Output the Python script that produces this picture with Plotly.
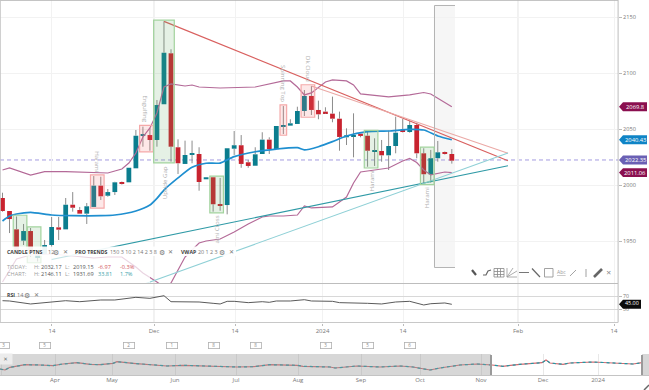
import plotly.graph_objects as go

W, H = 649, 390

# ---- daily candles (session index 0..64) ----
opens = [1988.4,1976.8,1960.4,1950.3,1958.9,1934.8,1938.4,1946.4,1962.2,1960.4,1982.4,1977.7,1974.4,1980.4,1999.4,1990.4,1993.7,2002.7,2002.4,2014.9,2044.0,2044.6,2040.2,2072.1,2117.6,2033.7,2018.8,2027.1,2027.7,2005.1,2006.9,1982.8,1982.1,2032.4,2035.5,2020.3,2017.2,2027.7,2040.5,2031.9,2052.4,2053.0,2054.5,2066.1,2079.5,2067.0,2065.5,2063.7,2059.2,2042.6,2043.1,2045.8,2044.0,2029.5,2030.4,2026.5,2034.8,2049.1,2047.3,2053.6,2028.3,2009.6,2023.9,2029.2,2027.7]
highs = [1993.1,1976.8,1971.9,1965.2,1961.6,1940.2,1950.9,1971.4,1971.4,1988.4,1993.7,1980.4,1983.9,2008.0,2007.4,1996.4,2002.9,2003.1,2015.4,2049.1,2052.1,2050.9,2075.9,2146.1,2121.2,2040.8,2039.6,2039.6,2033.7,2006.9,2006.9,2006.3,2032.8,2048.2,2044.6,2022.3,2033.7,2047.1,2042.6,2052.7,2070.5,2058.7,2069.9,2084.8,2088.4,2075.3,2069.4,2078.9,2065.5,2050.6,2064.0,2045.8,2047.6,2041.7,2040.2,2048.5,2061.0,2058.9,2057.4,2055.6,2032.8,2031.3,2039.3,2029.9,2032.1]
lows = [1976.2,1957.1,1940.2,1946.4,1935.7,1931.7,1938.4,1938.4,1950.9,1960.4,1976.2,1974.4,1965.2,1980.4,1986.6,1989.6,1991.1,2000.4,2002.4,2014.9,2034.2,2030.6,2034.2,2072.1,2020.8,2009.8,2018.8,2019.4,1994.9,2005.1,1976.2,1977.0,1973.8,2026.8,2015.4,2015.4,2017.0,2027.7,2027.7,2031.9,2045.5,2053.0,2054.5,2061.6,2062.5,2058.7,2063.4,2056.0,2030.6,2035.7,2024.7,2042.6,2016.3,2017.0,2020.8,2013.4,2028.3,2046.9,2046.7,2023.9,2001.5,2002.1,2020.8,2027.2,2019.1]
closes = [1976.8,1969.6,1942.0,1958.9,1939.3,1937.5,1946.4,1962.5,1960.1,1982.4,1979.7,1974.4,1981.0,1999.4,1989.9,1993.7,2002.4,2001.2,2015.4,2044.0,2044.9,2040.2,2071.4,2118.1,2034.2,2019.4,2026.8,2028.3,2002.7,2006.9,1982.8,1981.5,2032.8,2035.5,2018.8,2017.0,2027.4,2040.5,2032.1,2052.7,2053.6,2055.1,2066.1,2079.5,2067.0,2063.1,2064.0,2059.2,2042.9,2044.4,2044.6,2043.8,2030.6,2030.6,2026.5,2034.8,2046.7,2047.3,2053.6,2028.3,2009.6,2023.9,2029.2,2027.7,2021.7]
sessions = list(range(len(opens)))

# ---- Bollinger-style bands ----
mid_x = [0,1,2,4,7,10,14,16,19,21,22,23,25,27,29,31,33,36,39,42,43,45,47,49,52,55,58,60,62,64]
mid_val = [1967.9,1972.3,1974.1,1975.6,1973.2,1972.6,1972.6,1973.2,1976.8,1982.1,1988.1,1995.5,2006.3,2015.8,2019.4,2019.6,2025.3,2029.7,2032.1,2033.3,2031.3,2034.2,2038.7,2043.8,2047.6,2048.2,2049.7,2049.1,2043.8,2040.43]
up_x = [0,1,4,6,9,13,15,17,18,19,20,21,22,23,24,26,27,28,31,36,40,41,42,43,44,46,47,49,50,51,55,58,60,61,63,64]
up_val = [2013.4,2015.2,2008.9,2011.9,2011.9,2010.7,2010.7,2014.3,2019.6,2028.6,2042.9,2050.9,2064.3,2087.5,2090.2,2088.4,2089.3,2087.5,2086.6,2087.5,2092.9,2092.9,2087.5,2080.4,2082.2,2092.0,2093.8,2092.9,2089.3,2081.3,2078.6,2080.4,2082.6,2081.3,2074.1,2069.8]
lo_x = [0,1,2,4,7,10,13,15,17,19,20,22,23,24,25,26,27,28,29,31,33,35,37,38,40,42,43,44,47,48,49,50,51,53,55,57,58,59,60,61,63,64]
lo_val = [1913.4,1924.1,1933.9,1937.5,1938.4,1936.6,1934.8,1935.7,1935.7,1926.8,1921.4,1913.4,1908.9,1912.5,1924.1,1935.7,1942.0,1948.2,1950.0,1951.8,1958.0,1965.2,1971.4,1972.3,1972.3,1973.2,1981.3,1979.5,1980.4,1984.8,1989.3,2001.8,2011.6,2013.4,2015.2,2021.4,2023.7,2020.1,2013.4,2009.0,2011.6,2011.06]

# ---- trend lines: [start session, end session], [start price, end price] ----
trend_red_x = [23, 72];      trend_red_y = [2146.1, 2021.7]
trend_pink_x = [44, 72];     trend_pink_y = [2088.4, 2028.3]
trend_teal_x = [7, 72];      trend_teal_y = [1933.5, 2017.2]
trend_aqua_x = [19.6, 72];   trend_aqua_y = [1910.2, 2028.6]

# ---- candlestick patterns: first session, last session, kind, label, side ----
patterns = [
    (2, 3, "bull", "", ""), (4, 5, "bull", "", ""),
    (13, 14, "bear", "Harami", "top"),
    (20, 21, "bear", "Engulfing", "top"),
    (22, 24, "bull", "Upside Gap", "bottom"),
    (30, 31, "bull", "ami Cross", "bottom"),
    (40, 40, "bear", "Spinning Top", "top"),
    (43, 44, "bear", "Dk Cloud", "top"),
    (52, 53, "bull", "Harami", "bottom"),
    (60, 61, "bull", "Harami", "bottom"),
]

# ---- RSI ----
rsi_x = [0,1,4,7,9,11,14,16,19,21,23,24,26,28,30,31,32,33,35,37,38,39,41,43,44,47,48,50,52,54,56,58,60,61,63,64]
rsi_val = [55.9,55,46,51,55.9,52.9,58,58,66,63,70.9,52.9,52,52,48,46,54,54,50,52.9,51,55,55,58.9,55,54,50,50,48,46,52,54,43,46.8,49,45]

# ---- axis labels ----
main_tick_pos = [7.05, 21.58, 33.12, 45.58, 57.05, 73.43, 87.1]
main_tick_txt = ["14", "Dec", "14", "2024", "14", "Feb", "14"]
major_pos = [21.58, 45.58, 73.43]

price_ticks = [1950, 2000, 2050, 2100, 2150]
rsi_ticks = [30, 70]

# ---- navigator ----
nav_x = [0,2.5,5,10,12.5,20,26.5,31.5,38.5,45,50,56.5,58.5,66.5,73.5,83.5,91.5,100,110,118.5,126.5,135,148.5,151.5,165,167.5,178.5,190,200,206.5,215,220,230,238.5,246,251.5,260,271,273,275,281.5,285,296.5,308.5,316.5,321]
nav_val = [1847.5,1820,1894.6,1930.6,1966.6,1958.3,1939,1986,2022,1977.7,1966.6,2005.4,2049.7,2005.4,1977.7,1930.6,1950,1930.6,1911.2,1902.9,1911.2,1966.6,1950,1922.3,1902.9,1875.2,1930.6,1902.9,1930.6,1902.9,1819.8,1875.2,1958.3,1986,1958.3,1922.3,1977.7,2022,2096.8,2013.7,1977.7,2013.7,2041.4,2005.4,1986,2022]
nav_tick_pos = [0.75, 27.5, 56, 87.5, 118, 149, 180.5, 210, 240.5, 271.5, 299]
nav_tick_txt = ["Mar", "Apr", "May", "Jun", "Jul", "Aug", "Sep", "Oct", "Nov", "Dec", "2024"]

# ---- event markers above the navigator ----
event_px = [4, 45, 129, 172, 214, 256, 326, 368, 410]
event_txt = ["3", "5", "2", "1", "8", "8", "3", "5", "6"]

# ---- last-value tags ----
tags = [(2069.8, "2069.8", "#8a0f4f"), (2040.43, "2040.43", "#0f84c6"),
        (2022.35, "2022.35", "#6a60b4"), (2011.06, "2011.06", "#8a0f4f")]
rsi_tag = 45.00

TEAL, RED = "#0b7d8e", "#c8232f"
FONT = "Open Sans, DejaVu Sans, sans-serif"


def fx(px):
    return px / W


def fy(py):
    return 1 - py / H


fig = go.Figure()

# bodies
fig.add_trace(go.Bar(
    x=sessions,
    base=[min(o, c) for o, c in zip(opens, closes)],
    y=[max(abs(c - o), 1.0) for o, c in zip(opens, closes)],
    width=0.68,
    marker=dict(color=[TEAL if c >= o else RED for o, c in zip(opens, closes)], line=dict(width=0)),
))

# wicks: above and below each body, so they never cross it
wx, wy = [], []
for s, o, hi, lo, c in zip(sessions, opens, highs, lows, closes):
    wx += [s, s, None, s, s, None]
    wy += [max(o, c), hi, None, lo, min(o, c), None]
fig.add_trace(go.Scatter(x=wx, y=wy, mode="lines", line=dict(color="#8c8c8c", width=1), hoverinfo="skip"))

PURPLE = "#b46a98"
fig.add_trace(go.Scatter(x=up_x, y=up_val, mode="lines", line=dict(color=PURPLE, width=1.2)))
fig.add_trace(go.Scatter(x=lo_x, y=lo_val, mode="lines", line=dict(color=PURPLE, width=1.2)))
fig.add_trace(go.Scatter(x=mid_x, y=mid_val, mode="lines", line=dict(color="#1f8fd0", width=1.7, shape="spline", smoothing=0.6)))

fig.add_trace(go.Scatter(x=trend_red_x, y=trend_red_y, mode="lines", line=dict(color="#d9605f", width=1.2)))
fig.add_trace(go.Scatter(x=trend_pink_x, y=trend_pink_y, mode="lines", line=dict(color="#eba9a6", width=1.1)))
fig.add_trace(go.Scatter(x=trend_teal_x, y=trend_teal_y, mode="lines", line=dict(color="#2f9aa6", width=1.2)))
fig.add_trace(go.Scatter(x=trend_aqua_x, y=trend_aqua_y, mode="lines", line=dict(color="#8fd0d6", width=1.1)))

# RSI pane
fig.add_trace(go.Scatter(x=rsi_x, y=rsi_val, mode="lines", line=dict(color="#5a5a5a", width=1), xaxis="x2", yaxis="y2"))

# navigator pane
fig.add_trace(go.Scatter(x=nav_x, y=nav_val, mode="lines", line=dict(color="#d4686f", width=1.2), xaxis="x3", yaxis="y3"))
fig.add_trace(go.Scatter(x=nav_x, y=nav_val, mode="lines", line=dict(color="#1f9aa6", width=1.2, dash="3px,3px"), xaxis="x3", yaxis="y3"))

shapes, notes = [], []


def pshape(x0, y0, x1, y1, fill=None, line=None, lw=1, layer="above", kind="rect", opacity=None):
    d = dict(type=kind, xref="paper", yref="paper", x0=fx(x0), x1=fx(x1), y0=fy(y0), y1=fy(y1),
             layer=layer, line=dict(color=line or "rgba(0,0,0,0)", width=lw if line else 0))
    if fill:
        d["fillcolor"] = fill
    if opacity is not None:
        d["opacity"] = opacity
    shapes.append(d)


def ppath(points, line, lw=1):
    p = "M " + " L ".join(f"{fx(a):.5f} {fy(b):.5f}" for a, b in points)
    shapes.append(dict(type="path", xref="paper", yref="paper", path=p, layer="above",
                       line=dict(color=line, width=lw)))


def note(px, py, text, size=5.6, color="#666", anchor="left", **kw):
    notes.append(dict(xref="paper", yref="paper", x=fx(px), y=fy(py), text=text, showarrow=False,
                      xanchor=anchor, yanchor="middle", font=dict(size=size, color=color, family=FONT),
                      borderpad=0, **kw))


# month lines
for p in major_pos:
    shapes.append(dict(type="line", xref="x", yref="y domain", x0=p, x1=p, y0=0, y1=1, layer="below",
                       line=dict(color="#e2e2e2", width=1)))
    shapes.append(dict(type="line", xref="x2", yref="y2 domain", x0=p, x1=p, y0=0, y1=1, layer="below",
                       line=dict(color="#e2e2e2", width=1)))

# grey time zone
pshape(434.5, 5, 455, 267.5, fill="#f6f6f6", layer="below")
ppath([(455, 5.5), (434.5, 5.5), (434.5, 267.5), (455, 267.5)], "#b4b4b4", 1)

# last close line
shapes.append(dict(type="line", xref="paper", yref="y", x0=0, x1=618 / W, y0=2022.35, y1=2022.35,
                   layer="below", line=dict(color="#a39be0", width=1, dash="4px,3px")))

# pattern boxes & labels
for first, last, kind, label, side in patterns:
    top = max(highs[first:last + 1]) + 1.1
    bot = min(lows[first:last + 1]) - 1.1
    if kind == "bull":
        fc, lc = "rgba(95,170,95,0.16)", "#a3d39e"
    else:
        fc, lc = "rgba(240,110,110,0.16)", "#f5a9a9"
    shapes.append(dict(type="rect", xref="x", yref="y", x0=first - 0.47, x1=last + 0.47, y0=bot, y1=top,
                       fillcolor=fc, line=dict(color=lc, width=1.2), layer="above"))
    if label:
        notes.append(dict(xref="x", yref="y", x=(first + last) / 2,
                          y=top + 0.8 if side == "top" else bot - 0.8,
                          text=label, showarrow=False, textangle=90 if side == "top" else -90,
                          yanchor="bottom" if side == "top" else "top", xanchor="center",
                          font=dict(size=6.1, color="#b0b0b0", family=FONT)))

# legend backgrounds
pshape(0, 246.5, 236, 256, fill="rgba(255,255,255,0.92)")
pshape(0, 256, 150, 283, fill="rgba(255,255,255,0.72)")

# pane borders
pshape(0, 0, 618, 0.8, fill="#b0b0b0")
pshape(0, 0, 0.8, 322.5, fill="#c4c4c4")
pshape(617.6, 0, 618.6, 322.5, fill="#bdbdbd")
pshape(0, 283, 618, 284, fill="#bdbdbd")
pshape(0, 322, 618, 323, fill="#c8c8c8")

# navigator decoration
pshape(0, 354, 491, 375, fill="rgba(150,150,150,0.38)")
pshape(642, 354, 649, 375, fill="rgba(150,150,150,0.38)")
pshape(0, 375, 649, 376, fill="#c4c4c4")
pshape(490, 355, 492, 375, fill="#9a9a9a")
pshape(641, 355, 643, 375, fill="#9a9a9a")
notes.append(dict(xref="paper", yref="paper", x=fx(5.5), y=fy(359), text="✕", showarrow=False,
                  xanchor="center", yanchor="middle",
                  width=11, height=8, bgcolor="#ececec", font=dict(size=5.5, color="#777", family=FONT)))

# event markers
for px, t in zip(event_px, event_txt):
    notes.append(dict(xref="paper", yref="paper", x=fx(px), y=fy(345.5), text=t, showarrow=False,
                      xanchor="center", yanchor="middle",
                      width=10, height=5, bordercolor="#b0b0b0", borderwidth=0.8, borderpad=0,
                      font=dict(size=4.5, color="#888", family=FONT)))

# legend texts
DARK, SOFT = "#3f3f3f", "#777"
note(6, 252.3, "<b>CANDLE PTNS</b>", size=5.2, color=DARK)
note(47, 252.3, "12", color=SOFT)
note(56, 252.3, "⚙", size=7, color=SOFT, anchor="center")
note(65, 252.3, "✕", size=6, color=SOFT, anchor="center")
note(74, 252.3, "<b>PRO TRENDS</b>", size=5.2, color=DARK)
note(109, 252.3, "150 3 10 2 14 2 3 8", size=5.4, color=SOFT)
note(162, 252.3, "⚙", size=7, color=SOFT, anchor="center")
note(170.5, 252.3, "✕", size=6, color=SOFT, anchor="center")
note(180, 252.3, "<b>VWAP</b>", size=5.2, color=DARK)
note(197, 252.3, "20 1 2 3", size=5.4, color=SOFT)
note(222, 252.3, "⚙", size=7, color=SOFT, anchor="center")
note(231, 252.3, "✕", size=6, color=SOFT, anchor="center")
for py, vals, col in [(267.3, ("TODAY:", "2032.17", "2019.15", "-6.97", "-0.3%"), "#d2555a"),
                      (274.3, ("CHART:", "2146.11", "1931.69", "33.81", "1.7%"), "#3d9faa")]:
    note(6, py, vals[0], color="#a0a0a0")
    note(33, py, "H:", color="#a0a0a0")
    note(40, py, vals[1], color="#555")
    note(64, py, "L:", color="#a0a0a0")
    note(72, py, vals[2], color="#555")
    note(97, py, vals[3], color=col)
    note(119, py, vals[4], color=col)
note(6, 295, "<b>RSI</b>", size=5.2, color=DARK)
note(16, 295, "14", color=SOFT)
note(27, 295, "⚙", size=7, color=SOFT, anchor="center")
note(36, 295, "✕", size=6, color=SOFT, anchor="center")

# last-value tags
for val, txt, col in tags:
    h = 4.0
    path = (f"M {619 / W:.5f} {val} L {623 / W:.5f} {val + h} L {647 / W:.5f} {val + h} "
            f"L {647 / W:.5f} {val - h} L {623 / W:.5f} {val - h} Z")
    shapes.append(dict(type="path", xref="paper", yref="y", path=path, fillcolor=col,
                       line=dict(width=0), layer="above"))
    notes.append(dict(xref="paper", yref="y", x=635 / W, y=val, text=txt, showarrow=False,
                      xanchor="center", yanchor="middle",
                      font=dict(size=5.8, color="white", family=FONT)))
h = 13.5
path = (f"M {619 / W:.5f} {rsi_tag} L {623 / W:.5f} {rsi_tag + h} L {641 / W:.5f} {rsi_tag + h} "
        f"L {641 / W:.5f} {rsi_tag - h} L {623 / W:.5f} {rsi_tag - h} Z")
shapes.append(dict(type="path", xref="paper", yref="y2", path=path, fillcolor="#0c0c0c",
                   line=dict(width=0), layer="above"))
notes.append(dict(xref="paper", yref="y2", x=632 / W, y=rsi_tag + 2.5, text=f"{rsi_tag:.2f}", showarrow=False,
                  xanchor="center", yanchor="middle",
                  font=dict(size=5.4, color="white", family=FONT)))

# drawing toolbar
ppath([(472, 270), (476, 275)], "#555", 2.2)
ppath([(483, 275), (486, 275), (488, 271), (491, 270)], "#666", 1.2)
pshape(494, 268.5, 504, 277, line="#888", lw=0.8)
ppath([(494, 271.5), (504, 271.5)], "#888", 0.8)
ppath([(494, 274.5), (504, 274.5)], "#888", 0.8)
ppath([(497.5, 268.5), (497.5, 277)], "#888", 0.8)
ppath([(500.5, 268.5), (500.5, 277)], "#888", 0.8)
ppath([(507, 268), (507, 277), (517, 277)], "#999", 0.8)
ppath([(507, 277), (513, 268)], "#999", 0.8)
ppath([(507, 277), (517, 271)], "#999", 0.8)
ppath([(519, 272.5), (529, 272.5)], "#777", 1)
ppath([(532, 268.5), (540, 277)], "#666", 1.2)
pshape(544.5, 268.5, 553, 277, line="#999", lw=0.9)
note(561, 272, "<u>Abc</u>", size=5, color="#999", anchor="center")
ppath([(570, 276), (576, 270)], "#999", 0.9)
ppath([(586, 269), (586, 277)], "#aaa", 1.1)
ppath([(594, 277), (602, 269)], "#666", 2.6)
note(608.5, 272.5, "✕", size=6.5, color="#888", anchor="center")
ppath([(644, 390), (649, 385)], "#666", 1.5)

axis_common = dict(showline=False, zeroline=False)
fig.update_layout(
    width=W, height=H, autosize=False, showlegend=False, barmode="overlay",
    margin=dict(l=0, r=0, t=0, b=0, pad=0),
    paper_bgcolor="white", plot_bgcolor="white",
    font=dict(family=FONT, size=6, color="#777"),
    shapes=shapes, annotations=notes,
    xaxis=dict(domain=[0, 618 / W], range=[-0.356, 87.67], anchor="y", tickvals=main_tick_pos,
               showticklabels=False, ticks="", showgrid=True, gridcolor="#f2f2f2", gridwidth=1, **axis_common),
    yaxis=dict(domain=[fy(283), 1], range=[1912.5, 2165.18], anchor="x", side="right", tickvals=price_ticks,
               ticks="outside", ticklen=3, tickcolor="#bbb", tickwidth=1, tickfont=dict(size=5.6, color="#777"),
               showgrid=True, gridcolor="#f2f2f2", gridwidth=1, **axis_common),
    xaxis2=dict(domain=[0, 618 / W], range=[-0.356, 87.67], anchor="y2", tickvals=main_tick_pos,
                ticktext=main_tick_txt, ticks="outside", ticklen=2, tickcolor="#bbb",
                tickfont=dict(size=6, color="#777"), showgrid=True, gridcolor="#f2f2f2", **axis_common),
    yaxis2=dict(domain=[fy(322.5), fy(283.5)], range=[-9.7, 107.6], anchor="x2", side="right", tickvals=rsi_ticks,
                ticks="outside", ticklen=3, tickcolor="#bbb", tickfont=dict(size=5.2, color="#777"),
                showgrid=True, gridcolor="#d8d8d8", gridwidth=1, **axis_common),
    xaxis3=dict(domain=[0, 1], range=[0, 324.5], anchor="y3", tickvals=nav_tick_pos, ticktext=nav_tick_txt,
                ticks="", tickfont=dict(size=6, color="#777"), showgrid=True, gridcolor="#e8e8e8", **axis_common),
    yaxis3=dict(domain=[fy(375), fy(354)], range=[1681, 2263], anchor="x3", showticklabels=False,
                showgrid=False, ticks="", **axis_common),
)

fig.write_html("out.html", config={"displayModeBar": False},
               post_script="document.body.style.margin='0';document.body.style.overflow='hidden';")
